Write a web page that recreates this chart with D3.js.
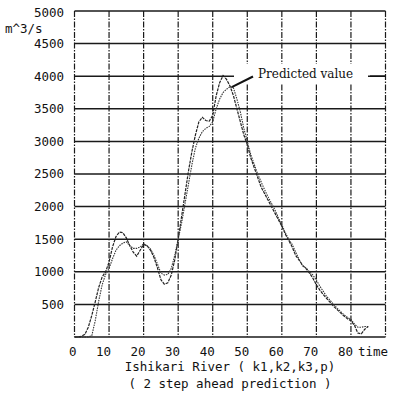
<!DOCTYPE html>
<html>
<head>
<meta charset="utf-8">
<script src="https://cdn.jsdelivr.net/npm/d3@7"></script>
<style>
  html, body { margin: 0; padding: 0; background: #fff; }
  svg { display: block; }
  .mono { font-family: "DejaVu Sans Mono", "Liberation Mono", monospace; font-size: 12.5px; fill: #111; }
</style>
</head>
<body>
<svg id="chart" width="402" height="397"></svg>
<script>
// Discharge of the Ishikari River (m^3/s) against time step
const times = d3.range(0, 86);
const observed = [
  0, 0, 10, 40, 150, 330, 540, 760, 920, 1000,
  1150, 1380, 1540, 1610, 1600, 1520, 1400, 1300, 1240, 1330,
  1420, 1400, 1330, 1220, 1060, 880, 810, 830, 950, 1180,
  1500, 1850, 2200, 2550, 2850, 3100, 3300, 3370, 3320, 3310,
  3400, 3700, 3900, 4010, 3950, 3850, 3700, 3500, 3300, 3100,
  2950, 2750, 2600, 2450, 2300, 2200, 2100, 2000, 1900, 1800,
  1700, 1580, 1480, 1380, 1250, 1180, 1100, 1050, 980, 900,
  800, 720, 650, 590, 530, 470, 420, 370, 320, 280,
  250, 180, 60, 50, 120, 160
];
const predicted = [
  0, 0, 0, 0, 0, 20, 250, 550, 800, 960,
  1050, 1200, 1330, 1400, 1440, 1460, 1400, 1360, 1360, 1380,
  1430, 1400, 1350, 1250, 1120, 980, 950, 960, 1050, 1250,
  1500, 1750, 2050, 2350, 2650, 2900, 3050, 3150, 3200, 3230,
  3300, 3500, 3650, 3750, 3800, 3840, 3820, 3650, 3450, 3200,
  3000, 2800, 2650, 2500, 2380, 2260, 2150, 2050, 1950, 1830,
  1720, 1600, 1500, 1420, 1300, 1190, 1090, 1060, 1000, 950,
  870, 780, 700, 620, 560, 500, 440, 390, 340, 300,
  270, 200, 150, 150, 160, 160
];
const xTicks = [0, 10, 20, 30, 40, 50, 60, 70, 80];
const yTicks = [500, 1000, 1500, 2000, 2500, 3000, 3500, 4000, 4500, 5000];
const yUnit = "m^3/s";
const xUnit = "time";
const titleLines = ["Ishikari River ( k1,k2,k3,p)", "( 2 step ahead prediction )"];
const noteText = "Predicted value";

const svg = d3.select("#chart");
const x = d3.scaleLinear().domain([0, 90]).range([74.5, 385.5]);
const y = d3.scaleLinear().domain([0, 5000]).range([337, 11]);

// vertical grid (dashed), including frame sides
svg.append("g")
  .selectAll("line")
  .data(d3.range(0, 91, 10))
  .join("line")
  .attr("x1", d => x(d)).attr("x2", d => x(d))
  .attr("y1", y(5000)).attr("y2", y(0))
  .attr("stroke", "#1a1a1a")
  .attr("stroke-width", 1.2)
  .attr("stroke-dasharray", "6,1.5,1.5,1.5");

// horizontal grid (solid)
svg.append("g")
  .selectAll("line")
  .data([0].concat(yTicks))
  .join("line")
  .attr("x1", x(0)).attr("x2", x(90))
  .attr("y1", d => y(d)).attr("y2", d => y(d))
  .attr("stroke", "#1a1a1a")
  .attr("stroke-width", 1.5);

// y tick labels
svg.append("g")
  .selectAll("text")
  .data(yTicks)
  .join("text")
  .attr("class", "mono")
  .attr("x", 64)
  .attr("y", d => d === 5000 ? y(d) + 2 : y(d))
  .attr("dy", "0.35em")
  .attr("text-anchor", "end")
  .text(d => d);

svg.append("text").attr("class", "mono")
  .attr("x", 5).attr("y", 33).text(yUnit);

// x tick labels
svg.append("g")
  .selectAll("text")
  .data(xTicks)
  .join("text")
  .attr("class", "mono")
  .attr("x", d => x(d) + 2)
  .attr("y", 356)
  .attr("text-anchor", "end")
  .text(d => d);

svg.append("text").attr("class", "mono")
  .attr("x", 358).attr("y", 356).text(xUnit);

svg.append("g")
  .selectAll("text")
  .data(titleLines)
  .join("text")
  .attr("class", "mono")
  .attr("x", 230)
  .attr("y", (d, i) => 371 + i * 17)
  .attr("text-anchor", "middle")
  .text(d => d);

// series
const line = d3.line()
  .x((d, i) => x(times[i]))
  .y(d => y(d));

svg.append("path")
  .datum(observed)
  .attr("d", line)
  .attr("fill", "none")
  .attr("stroke", "#222")
  .attr("stroke-width", 1.2)
  .attr("stroke-dasharray", "3,1");

svg.append("path")
  .datum(predicted)
  .attr("d", line)
  .attr("fill", "none")
  .attr("stroke", "#333")
  .attr("stroke-width", 1.1)
  .attr("stroke-dasharray", "1.5,1");

// annotation for the predicted curve
const note = svg.append("g");
note.append("rect")
  .attr("x", 234).attr("y", 64)
  .attr("width", 134).attr("height", 20)
  .attr("fill", "#fff");
note.append("text")
  .attr("x", 258).attr("y", 78)
  .attr("font-family", "DejaVu Serif, Liberation Serif, serif")
  .attr("font-size", 12)
  .attr("fill", "#111")
  .text(noteText);
note.append("line")
  .attr("x1", 370).attr("x2", x(90))
  .attr("y1", y(4000)).attr("y2", y(4000))
  .attr("stroke", "#111").attr("stroke-width", 1.5);
note.append("line")
  .attr("x1", 253).attr("y1", 76.5)
  .attr("x2", x(45.5)).attr("y2", y(3840) + 0.5)
  .attr("stroke", "#111").attr("stroke-width", 2);
</script>
</body>
</html>
